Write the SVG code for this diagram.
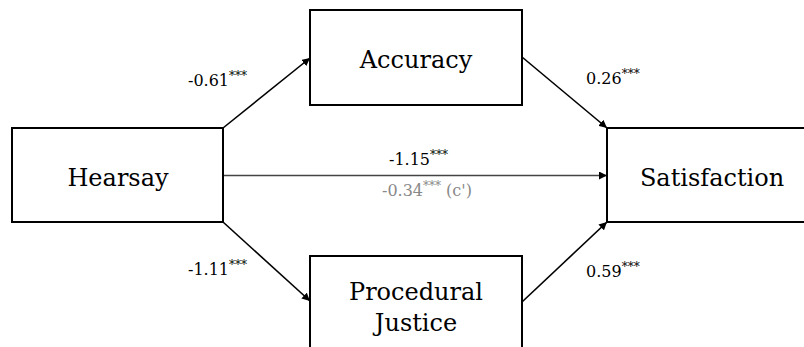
<svg xmlns="http://www.w3.org/2000/svg" width="804" height="347" viewBox="0 0 804 347">
<style>
.box{fill:#fff;stroke:#000;stroke-width:2}
.lbl{font-family:"DejaVu Serif","Liberation Serif",serif;font-size:24px;fill:#000;text-anchor:middle}
.coef{font-family:"DejaVu Serif","Liberation Serif",serif;font-size:16px;fill:#000}
.sup{font-size:12px}
.edge{stroke:#000;stroke-width:1.6;fill:none}
</style>
<defs>
<marker id="ah" viewBox="0 0 10 10" refX="10" refY="5" markerWidth="8" markerHeight="8" markerUnits="userSpaceOnUse" orient="auto">
<path d="M0,0 L10,5 L0,10 z" fill="#000"/>
</marker>
</defs>
<rect width="804" height="347" fill="#fff"/>
<g id="connectors">
<line class="edge" x1="223" y1="128" x2="310" y2="58" marker-end="url(#ah)"/>
<line class="edge" x1="522" y1="57" x2="607" y2="128" marker-end="url(#ah)"/>
<line class="edge" x1="223" y1="222" x2="310" y2="301" marker-end="url(#ah)"/>
<line class="edge" x1="522" y1="302" x2="607" y2="222" marker-end="url(#ah)"/>
<line x1="223" y1="175.5" x2="607" y2="175.5" stroke="#444" stroke-width="1.6" marker-end="url(#ah)"/>
<text class="coef" x="188" y="86">-0.61<tspan class="sup" dy="-6">***</tspan></text>
<text class="coef" x="586" y="84">0.26<tspan class="sup" dy="-6">***</tspan></text>
<text class="coef" x="188" y="275">-1.11<tspan class="sup" dy="-6">***</tspan></text>
<text class="coef" x="586" y="277">0.59<tspan class="sup" dy="-6">***</tspan></text>
<text class="coef" x="389" y="165">-1.15<tspan class="sup" dy="-6">***</tspan></text>
<text class="coef" x="382" y="196" style="fill:#888">-0.34<tspan class="sup" dy="-6">***</tspan><tspan dy="6"> (c')</tspan></text>
</g>
<g id="hearsay">
<rect class="box" x="12" y="128" width="211" height="94"/>
<text class="lbl" x="118" y="186">Hearsay</text>
</g>
<g id="accuracy">
<rect class="box" x="310" y="10" width="212" height="95"/>
<text class="lbl" x="416" y="68">Accuracy</text>
</g>
<g id="satisfaction">
<rect class="box" x="607" y="128" width="212" height="94"/>
<text class="lbl" x="712" y="186">Satisfaction</text>
</g>
<g id="procedural">
<rect class="box" x="310" y="256" width="212" height="100"/>
<text class="lbl" x="416" y="300">Procedural</text>
<text class="lbl" x="416" y="331">Justice</text>
</g>
</svg>
